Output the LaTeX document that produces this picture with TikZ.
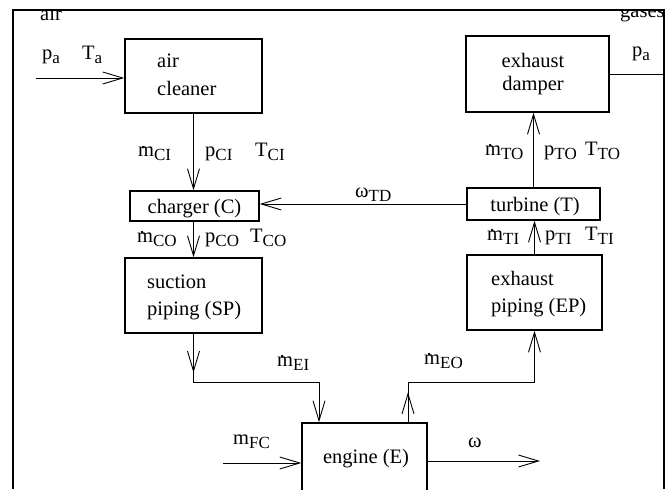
\documentclass[tikz,border=0pt]{standalone}
\usepackage{fontspec}
\setmainfont{Liberation Serif}
\usetikzlibrary{arrows.meta}
\newcommand\lsub[1]{\raisebox{-4pt}{\fontsize{17}{17}\selectfont #1}}
\newcommand\mdot{\rlap{\hspace{0.12em}\raisebox{0.42em}{.}}m}
\begin{document}
\begin{tikzpicture}[x=1pt,y=-1pt,font=\fontsize{20.5}{25}\selectfont,
  box/.style={draw,line width=1.4pt,inner sep=0pt},
  conn/.style={line width=0.9pt},
  arr/.style={conn,-{Straight Barb[length=20pt,width=12pt]}},
  lbl/.style={anchor=base west,inner sep=0pt},
  ctr/.style={anchor=base,inner sep=0pt}]
\useasboundingbox (0,0) rectangle (668,489);

% boxes
\node[box,minimum width=137pt,minimum height=74pt] (ac) at (193.5,76) {};
\node[lbl] (acA) at (157,68) {air};
\node[lbl] (acB) at (157,96) {cleaner};

\node[box,minimum width=143pt,minimum height=76pt] (ed) at (537.5,74) {};
\node[ctr] (edA) at (533,68) {exhaust};
\node[ctr] (edB) at (533,91) {damper};

\node[box,minimum width=129pt,minimum height=30pt] (ch) at (194.5,206) {};
\node[ctr] (chT) at (194.5,213) {charger (C)};

\node[box,minimum width=133pt,minimum height=32pt] (tu) at (533.5,204) {};
\node[ctr] (tuT) at (535,211) {turbine (T)};

\node[box,minimum width=137pt,minimum height=75pt] (sp) at (193.5,295.5) {};
\node[lbl] (spA) at (147,288) {suction};
\node[lbl] (spB) at (147,315) {piping (SP)};

\node[box,minimum width=135pt,minimum height=75pt] (ep) at (534.5,292.5) {};
\node[lbl] (epA) at (491,285) {exhaust};
\node[lbl] (epB) at (491,312) {piping (EP)};

\node[box,minimum width=125pt,minimum height=80pt] (eng) at (364.5,463) {};
\node[ctr] (engT) at (366,463) {engine (E)};

% connectors
\coordinate (airin) at (36,78);
\draw[arr] (airin) -- (airin -| ac.west);
\coordinate (gasout) at (663,74);
\draw[conn] (ed.east) -- (gasout);

\draw[arr] (ac.south) -- (ac.south |- ch.north);
\draw[arr] (ac.south |- ch.south) -- (ac.south |- sp.north);
\draw[arr] (tu.west) -- (tu.west -| ch.east);
\draw[arr] (tu.north) -- (tu.north |- ed.south);
\draw[arr] (ep.north) -- (ep.north |- tu.south);

\coordinate (ei) at (319,382);
\draw[conn] (sp.south) |- (ei);
\draw[arr] (sp.south) -- ++(0,39);
\draw[arr] (ei) -- (ei |- eng.north);

\coordinate (eo) at (408,382);
\draw[arr] (eo |- eng.north) -- ++(0,-30);
\draw[conn] (eo |- eng.north) -- (eo);
\draw[arr] (eo) -| (ep.south);

\coordinate (fc) at (223,463);
\draw[arr] (fc) -- (fc -| eng.west);
\coordinate (om) at (540,461);
\draw[arr] (om -| eng.east) -- (om);

% labels
\node[lbl] (la1) at (40,21) {air};
\node[lbl] (la2) at (620,18) {gases};
\node[lbl] (pa1) at (42,60) {p\lsub{a}};
\node[lbl] (ta1) at (82,60) {T\lsub{a}};
\node[lbl] (pa2) at (632,57) {p\lsub{a}};

\node[lbl] (mci) at (138,157) {\mdot\lsub{CI}};
\node[lbl] (pci) at (205,157) {p\lsub{CI}};
\node[lbl] (tci) at (255,157) {T\lsub{CI}};
\node[lbl] (mco) at (137,242) {\mdot\lsub{CO}};
\node[lbl] (pco) at (205,242) {p\lsub{CO}};
\node[lbl] (tco) at (250,242) {T\lsub{CO}};

\node[lbl] (mto) at (485,155) {\mdot\lsub{TO}};
\node[lbl] (pto) at (544,155) {p\lsub{TO}};
\node[lbl] (tto) at (585,155) {T\lsub{TO}};
\node[lbl] (wtd) at (355,197) {ω\lsub{TD}};
\node[lbl] (mti) at (487,240) {\mdot\lsub{TI}};
\node[lbl] (pti) at (545,240) {p\lsub{TI}};
\node[lbl] (tti) at (585,240) {T\lsub{TI}};

\node[lbl] (mei) at (277,366) {\mdot\lsub{EI}};
\node[lbl] (meo) at (424,364) {\mdot\lsub{EO}};
\node[lbl] (mfc) at (233,444) {m\lsub{FC}};
\node[lbl] (w) at (468,447) {ω};

% frame
\fill[white] (0,0) rectangle (668,10);
\draw[line width=2pt] (13,489) -- (13,10) -- (664,10) -- (664,489);
\end{tikzpicture}
\end{document}
